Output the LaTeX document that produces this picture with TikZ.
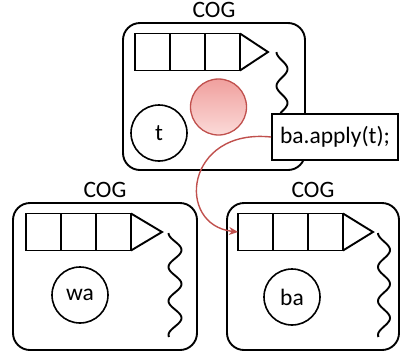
\documentclass[tikz,border=0pt]{standalone}
\usepackage{fontspec}
\setmainfont{Carlito}
\usetikzlibrary{arrows.meta,positioning}

\definecolor{cogred}{HTML}{C0504D}
\definecolor{balltop}{RGB}{240,160,158}
\definecolor{ballbottom}{RGB}{251,218,216}
\newcommand{\cogfont}{\fontsize{23.5}{27}\selectfont}

\tikzset{
  cogbox/.style={draw, line width=1.9pt, rounded corners=17pt, inner sep=0pt},
  coglabel/.style={font=\cogfont, inner sep=0pt},
  cell/.style={draw, line width=1.9pt, minimum width=35pt, minimum height=37pt, inner sep=0pt, outer sep=0pt},
  task/.style={circle, draw, line width=1.6pt, minimum size=56pt, inner sep=0pt, font=\cogfont},
  codebox/.style={draw, fill=white, line width=1.9pt, minimum width=126pt, minimum height=46pt, inner sep=0pt, font=\cogfont},
  wave/.style={line width=1.9pt},
  msg/.style={draw=cogred, line width=1.4pt, -{Stealth[length=9pt,width=8pt]}},
}

\begin{document}
\begin{tikzpicture}[x=1pt, y=-1pt]
\useasboundingbox (0,0) rectangle (401,354);

% the three COG boxes with their labels
\node[cogbox, minimum width=182pt, minimum height=147pt] (topcog) at (214,96.5) {};
\node[coglabel, above=4pt of topcog] (toplabel) {COG};
\node[cogbox, minimum width=184pt, minimum height=147pt] (leftcog) at (105,276.5) {};
\node[coglabel, above=4pt of leftcog] (leftlabel) {COG};
\node[cogbox, minimum width=172pt, minimum height=147pt] (rightcog) at (313,276.5) {};
\node[coglabel, above=4pt of rightcog] (rightlabel) {COG};

% queues
\node[cell, anchor=west] (tq1) at (135,52) {};
\node[cell, right=0pt of tq1] (tq2) {};
\node[cell, right=0pt of tq2] (tq3) {};
\coordinate (ttip) at (268,52);
\draw[line width=1.9pt, line join=miter] (tq3.north east) -- (ttip) -- (tq3.south east);

\node[cell, anchor=west] (lq1) at (26,232) {};
\node[cell, right=0pt of lq1] (lq2) {};
\node[cell, right=0pt of lq2] (lq3) {};
\coordinate (ltip) at (162,232);
\draw[line width=1.9pt, line join=miter] (lq3.north east) -- (ltip) -- (lq3.south east);

\node[cell, anchor=west] (rq1) at (238,232) {};
\node[cell, right=0pt of rq1] (rq2) {};
\node[cell, right=0pt of rq2] (rq3) {};
\coordinate (rtip) at (373,232);
\draw[line width=1.9pt, line join=miter] (rq3.north east) -- (rtip) -- (rq3.south east);

% wavy threads
\draw[wave] plot[smooth, domain=0:61, samples=50] ({282+5.5*cos((\x-17)/34*360)}, {52+\x});
\draw[wave] plot[smooth, domain=0:104, samples=80] ({175+6.5*cos((\x-17)/34*360)}, {233+\x});
\draw[wave] plot[smooth, domain=0:104, samples=80] ({384+6*cos((\x-17)/34*360)}, {233+\x});

% tasks
\node[task] (t) at (159,133) {t};
\node[task] (wa) at (80,295) {wa};
\node[task] (ba) at (292,297) {ba};

% the future
\node[circle, minimum size=56pt, inner sep=0pt, draw=cogred, line width=1.3pt,
      top color=balltop, bottom color=ballbottom] (fut) at (218.5,107) {};

% async call
\node[codebox] (apply) at (335,137) {ba.apply(t);};
\draw[msg] (apply.west) .. controls (185,128) and (175,225) .. (rq1.west);

\end{tikzpicture}
\end{document}
